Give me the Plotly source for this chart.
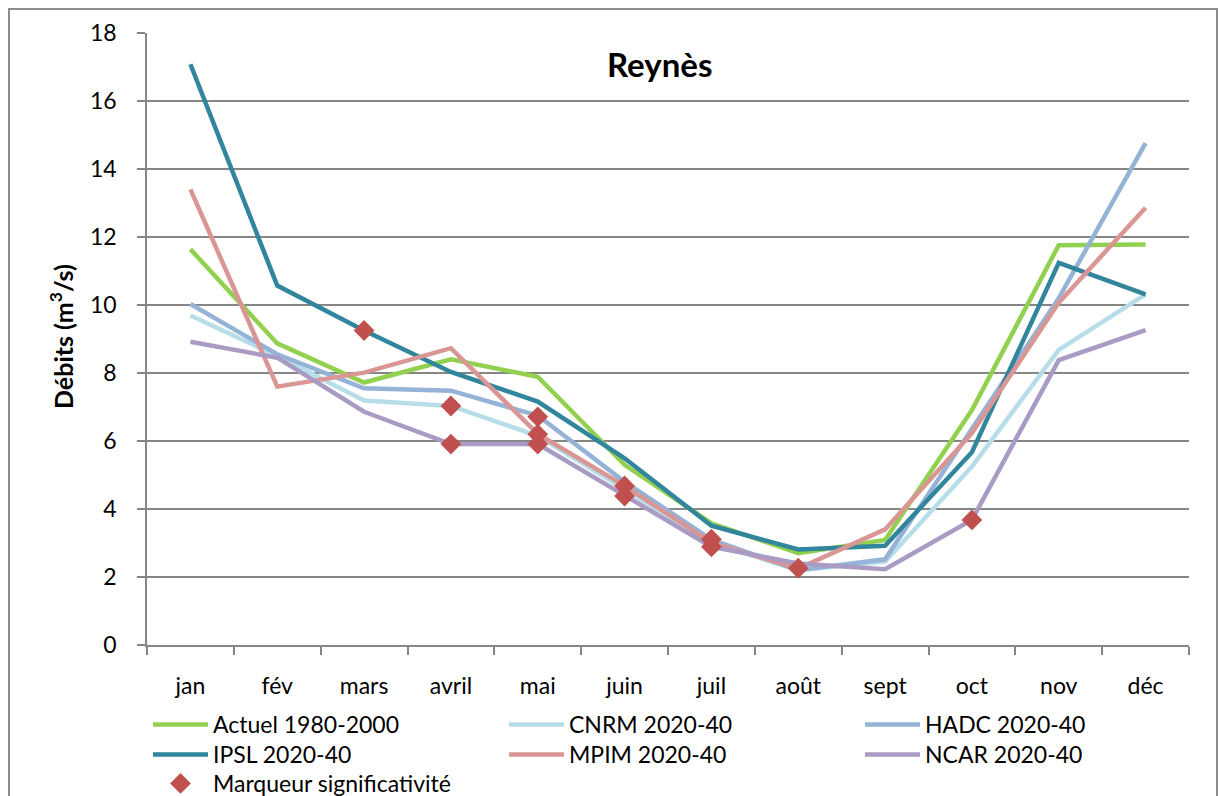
import plotly.graph_objects as go

# Monthly flows at Reynès (m3/s)
months = ["jan", "fév", "mars", "avril", "mai", "juin",
          "juil", "août", "sept", "oct", "nov", "déc"]

actuel = [11.64, 8.87, 7.72, 8.40, 7.89, 5.30, 3.58, 2.70, 3.09, 6.91, 11.76, 11.78]
cnrm = [9.69, 8.50, 7.19, 7.03, 6.15, 4.56, 3.00, 2.20, 2.45, 5.25, 8.68, 10.31]
hadc = [10.03, 8.55, 7.55, 7.48, 6.75, 4.80, 3.10, 2.20, 2.52, 6.37, 10.20, 14.76]
ipsl = [17.08, 10.57, 9.25, 8.03, 7.16, 5.49, 3.51, 2.81, 2.92, 5.67, 11.24, 10.31]
mpim = [13.40, 7.60, 8.01, 8.73, 6.21, 4.68, 3.01, 2.25, 3.40, 6.23, 10.07, 12.86]
ncar = [8.92, 8.45, 6.86, 5.91, 5.91, 4.41, 2.89, 2.40, 2.23, 3.68, 8.38, 9.26]

# Significance markers (month, flow)
sig_months = ["mars", "avril", "avril", "mai", "mai", "mai",
              "juin", "juin", "juil", "juil", "août", "oct"]
sig_values = [9.25, 7.03, 5.91, 6.71, 6.20, 5.91, 4.68, 4.38, 3.11, 2.89, 2.26, 3.68]

y_ticks = [0, 2, 4, 6, 8, 10, 12, 14, 16, 18]

series = [
    ("Actuel 1980-2000", actuel, "#92D050"),
    ("CNRM 2020-40", cnrm, "#B7DEE8"),
    ("HADC 2020-40", hadc, "#95B3D7"),
    ("IPSL 2020-40", ipsl, "#31859C"),
    ("MPIM 2020-40", mpim, "#D99694"),
    ("NCAR 2020-40", ncar, "#A99BC3"),
]

FONT = "Lato"
GRID = "#868686"
TXT = 23

W, H = 1218, 796
L, R, T, B = 147, 29, 33, 151
pw, ph = W - L - R, H - T - B


def px_x(p):
    return (p - L) / pw


def px_y(p):
    return (H - B - p) / ph


# Legend grid: 3 columns x 3 rows below the plot, one legend per entry
col_left = [148, 504, 860]
row_top = [703, 733, 762]

fig = go.Figure()
legends = {}
for i, (name, vals, color) in enumerate(series):
    key = "legend" if i == 0 else f"legend{i + 1}"
    legends[key] = (col_left[i % 3], row_top[i // 3])
    fig.add_trace(go.Scatter(
        x=months, y=vals, name=name, mode="lines",
        line=dict(color=color, width=4.5),
        legend=key,
    ))

legends["legend7"] = (col_left[0], row_top[2])
fig.add_trace(go.Scatter(
    x=sig_months, y=sig_values, name="Marqueur significativité",
    mode="markers",
    marker=dict(symbol="diamond", size=16, color="#C0504D"),
    legend="legend7",
))

legend_layout = {
    key: dict(
        x=px_x(x), y=px_y(y), orientation="v",
        xanchor="left", yanchor="top",
        font=dict(family=FONT, size=TXT, color="#000000"),
        bgcolor="rgba(0,0,0,0)", borderwidth=0, itemwidth=55,
    )
    for key, (x, y) in legends.items()
}

fig.update_layout(
    width=W, height=H,
    margin=dict(l=L, r=R, t=T, b=B, autoexpand=False),
    paper_bgcolor="white", plot_bgcolor="white",
    font=dict(family=FONT, size=TXT, color="#000000"),
    showlegend=True,
    **legend_layout,
    xaxis=dict(
        type="category", categoryorder="array", categoryarray=months,
        range=[-0.5, 11.5], showgrid=False, zeroline=False,
        showline=True, linecolor=GRID, linewidth=1.5,
        ticks="outside", tickson="boundaries", ticklen=8,
        tickcolor=GRID, tickwidth=1.5,
        ticklabelstandoff=20,
        tickfont=dict(family=FONT, size=TXT, color="#000000"),
    ),
    yaxis=dict(
        range=[0, 18], tickvals=y_ticks, showgrid=True,
        gridcolor=GRID, gridwidth=1.5, zeroline=False,
        showline=True, linecolor=GRID, linewidth=1.5,
        ticks="outside", ticklen=8, tickcolor=GRID, tickwidth=1.5,
        ticklabelstandoff=16,
        tickfont=dict(family=FONT, size=TXT, color="#000000"),
    ),
    annotations=[
        dict(text="<b>Reynès</b>", x=px_x(659), y=px_y(64),
             xref="paper", yref="paper", showarrow=False,
             xanchor="center", yanchor="middle",
             font=dict(family=FONT, size=33, color="#000000")),
        dict(text="<b>Débits (m<sup>3</sup>/s)</b>", x=px_x(61), y=px_y(337),
             xref="paper", yref="paper", showarrow=False, textangle=-90,
             xanchor="center", yanchor="middle",
             font=dict(family=FONT, size=25, color="#000000")),
    ],
    shapes=[
        dict(type="rect", xref="paper", yref="paper",
             x0=px_x(9), x1=px_x(1217), y0=px_y(805), y1=px_y(9),
             line=dict(color="#8C8C8C", width=2), layer="below"),
    ],
)

fig.write_html("out.html")
